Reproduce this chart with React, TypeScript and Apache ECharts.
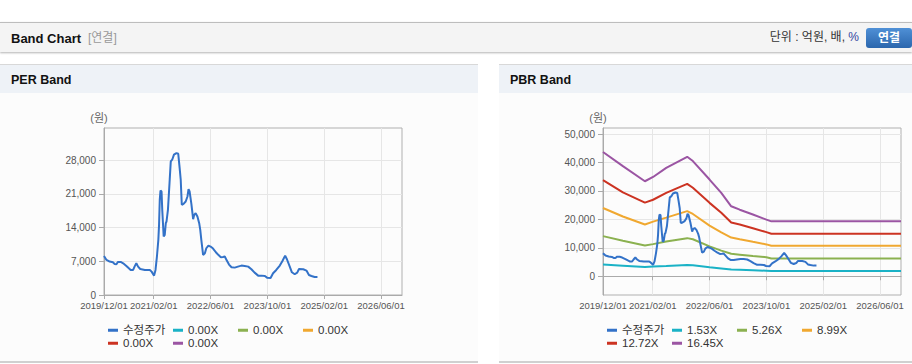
import React, { useEffect, useRef } from "react";
import * as echarts from "echarts";

// x axis: months since 2019/12/01
const xTickMonths = [0, 14, 30, 46, 62, 78];
const xTickLabels = ["2019/12/01", "2021/02/01", "2022/06/01", "2023/10/01", "2025/02/01", "2026/06/01"];
const xMaxMonth = 83.9;

const perTicks = [0, 7000, 14000, 21000, 28000];
const perMax = 34650;
const pbrTicks = [0, 10000, 20000, 30000, 40000, 50000];
const pbrMin = -6590;
const pbrMax = 52120;

// 수정주가 (adjusted price), months since 2019/12/01
const priceMonths = [
  0, 0.7, 1.6, 2.5, 3.0, 3.5, 3.9, 4.7, 5.4, 6.3, 7.0, 7.5, 8.2, 8.6, 9.1, 9.6, 10.2, 11.5, 12.9, 13.4,
  14.1, 14.5, 14.9, 15.3, 15.5, 15.7, 15.9, 16.2, 16.4, 16.8, 17.1, 17.4, 17.6, 18.0, 18.5, 18.8, 19.2, 19.7, 20.4, 20.9,
  21.3, 21.6, 21.9, 22.4, 23.0, 23.5, 23.8, 24.1, 24.6, 25.1, 25.4, 25.8, 26.3, 26.8, 27.1, 27.4, 27.9, 28.4, 28.8, 29.4,
  30.0, 30.7, 31.5, 32.1, 32.9, 33.5, 34.0, 34.5, 35.2, 35.9, 36.8, 37.7, 38.7, 39.6, 40.6, 41.5, 42.4, 43.4, 44.3, 45.3,
  45.9, 46.9, 47.6, 48.5, 49.5, 50.2, 51.0, 51.5, 52.3, 52.9, 53.7, 54.4, 54.9, 56.1, 57.0, 57.7, 58.4, 59.3, 60.1,
];
const priceValues = [
  8100, 7280, 6930, 6790, 6450, 6380, 6860, 6860, 6580, 6030, 5540, 5200, 5200, 5890, 6580, 5890, 5400, 5200, 5200, 4850,
  4020, 5200, 7970, 11430, 14550, 19750, 21690, 21480, 17670, 12130, 12470, 14900, 15250, 17670, 23910, 27720, 28070, 29110, 29450, 29310,
  26330, 23910, 18710, 18920, 19400, 20440, 21970, 21480, 18920, 15730, 16630, 16980, 16290, 14900, 13510, 11430, 8320, 8660, 9700, 10260,
  10050, 9630, 8870, 8390, 7830, 7900, 7970, 7280, 6310, 5750, 5680, 5890, 6100, 6030, 5890, 5340, 4640, 4020, 4020, 3950,
  3600, 3530, 4500, 5200, 6100, 7000, 8180, 7420, 5890, 4710, 4300, 4640, 5400, 5340, 5060, 4160, 3950, 3740, 3740,
];

// PBR bands
const bandMonths = [0, 5.6, 11.8, 14.1, 17.8, 23.7, 25.3, 30.0, 33.3, 36.1, 38.5, 42.2, 46.0, 47.4, 83.9];
const pbr153 = [4100, 3700, 3250, 3400, 3600, 3950, 3850, 3200, 2750, 2350, 2250, 2100, 1950, 1850, 1850];
const pbr526 = [14100, 12500, 10800, 11300, 12200, 13400, 13000, 10500, 9000, 7900, 7600, 7100, 6700, 6250, 6250];
const pbr899 = [24000, 21000, 18200, 19200, 20600, 22900, 21900, 17800, 15400, 13600, 13000, 12100, 11200, 10700, 10700];
const pbr1272 = [33800, 29500, 25900, 26900, 29300, 32500, 31100, 25800, 22300, 18900, 18200, 16900, 15500, 14950, 14950];
const pbr1645 = [43700, 38700, 33400, 34900, 38100, 42000, 40500, 34000, 29300, 24600, 23400, 21700, 19900, 19300, 19300];

const perLabels = ["수정주가", "0.00X", "0.00X", "0.00X", "0.00X", "0.00X"];
const pbrLabels = ["수정주가", "1.53X", "5.26X", "8.99X", "12.72X", "16.45X"];
const colors = ["#3372c8", "#1ab2c6", "#8bb150", "#f0a830", "#cc3322", "#9b55a3"];

const FONT = "'Liberation Sans', Arial, 'Noto Sans CJK KR', sans-serif";

const zip = (xs: number[], ys: number[]) => ys.map((y, i) => [xs[i], y]);

function xAxis(gridIndex: number) {
  return {
    type: "value",
    gridIndex,
    min: 0,
    max: xMaxMonth,
    axisLine: { show: true, lineStyle: { color: "#aaaaaa", width: 1 } },
    axisTick: { show: true, customValues: xTickMonths, length: 4, lineStyle: { color: "#aaaaaa" } },
    axisLabel: {
      customValues: xTickMonths,
      interval: 0,
      showMinLabel: true,
      showMaxLabel: true,
      hideOverlap: false,
      formatter: (v: number) => {
        const i = xTickMonths.indexOf(Math.round(v));
        return i >= 0 ? xTickLabels[i] : "";
      },
      color: "#555555",
      fontSize: 9.5,
      fontFamily: FONT,
      margin: 6,
    },
    splitLine: { show: true, lineStyle: { color: "#e6e6e6", width: 1 } },
  };
}

function yAxis(gridIndex: number, min: number, max: number, ticks: number[]) {
  return {
    type: "value",
    gridIndex,
    min,
    max,
    axisLine: { show: true, lineStyle: { color: "#aaaaaa", width: 1 } },
    axisTick: { show: true, customValues: ticks, length: 5, lineStyle: { color: "#aaaaaa" } },
    axisLabel: {
      customValues: ticks,
      interval: 0,
      showMinLabel: true,
      formatter: (v: number) => Math.round(v).toLocaleString("en-US"),
      color: "#555555",
      fontSize: 10,
      fontFamily: FONT,
      margin: 8,
    },
    splitLine: { show: true, lineStyle: { color: "#e6e6e6", width: 1 } },
  };
}

const legendCols = [0, 65, 130, 195];
function legends(prefix: string, labels: string[], x0: number) {
  return labels.map((lab, i) => ({
    data: [prefix + i],
    left: x0 + legendCols[i < 4 ? i : i - 4],
    top: i < 4 ? 324.5 : 337.5,
    padding: 0,
    itemWidth: 10,
    itemHeight: 3,
    icon: "rect",
    selectedMode: false,
    formatter: () => lab,
    textStyle: { color: "#333333", fontSize: 11.5, fontFamily: FONT },
  }));
}

function lineSeries(name: string, data: number[][], color: string, idx: number, z: number) {
  return {
    type: "line",
    name,
    xAxisIndex: idx,
    yAxisIndex: idx,
    data,
    showSymbol: false,
    symbol: "none",
    smooth: false,
    silent: true,
    z,
    lineStyle: { color, width: 2 },
    itemStyle: { color },
  };
}

export default function App() {
  const ref = useRef<HTMLDivElement>(null);
  useEffect(() => {
    if (!ref.current) return;
    const chart = echarts.init(ref.current, null, { renderer: "svg" });
    const pbrBands = [pbr153, pbr526, pbr899, pbr1272, pbr1645];
    const series: any[] = [];
    series.push(lineSeries("per0", zip(priceMonths, priceValues), colors[0], 0, 5));
    for (let i = 1; i < 6; i++) series.push(lineSeries("per" + i, [], colors[i], 0, 3));
    for (let i = 1; i < 6; i++) series.push(lineSeries("pbr" + i, zip(bandMonths, pbrBands[i - 1]), colors[i], 1, 3));
    series.push(lineSeries("pbr0", zip(priceMonths, priceValues), colors[0], 1, 5));

    chart.setOption({
      animation: false,
      backgroundColor: "transparent",
      grid: [
        { left: 104, top: 128, width: 298, height: 167, show: true, borderColor: "#b0b0b0", borderWidth: 1, backgroundColor: "transparent" },
        { left: 603, top: 128, width: 298, height: 167, show: true, borderColor: "#b0b0b0", borderWidth: 1, backgroundColor: "transparent" },
      ],
      xAxis: [xAxis(0), xAxis(1)],
      yAxis: [yAxis(0, 0, perMax, perTicks), yAxis(1, pbrMin, pbrMax, pbrTicks)],
      legend: [...legends("per", perLabels, 108), ...legends("pbr", pbrLabels, 607)],
      graphic: [
        { type: "text", x: 99, y: 118, style: { text: "(원)", fill: "#666666", font: `11px ${FONT}`, align: "center", verticalAlign: "middle" } },
        { type: "text", x: 598, y: 118, style: { text: "(원)", fill: "#666666", font: `11px ${FONT}`, align: "center", verticalAlign: "middle" } },
      ],
      series,
    });
    return () => chart.dispose();
  }, []);

  const panel = (left: number, width: number, title: string) => (
    <div
      style={{
        position: "absolute",
        left,
        top: 64,
        width,
        height: 296,
        borderTop: "1px solid #d8d8d8",
        borderBottom: "2px solid #d0d0d0",
        background: "#fcfcfc",
      }}
    >
      <div
        style={{
          height: 28,
          background: "#eef2f7",
          lineHeight: "30px",
          paddingLeft: 11,
          fontSize: 12.5,
          fontWeight: "bold",
          color: "#111",
        }}
      >
        {title}
      </div>
    </div>
  );

  return (
    <div
      style={{
        position: "fixed",
        left: 0,
        top: 0,
        width: 912,
        height: 364,
        background: "#ffffff",
        overflow: "hidden",
        fontFamily: FONT,
      }}
    >
      <div
        style={{
          position: "absolute",
          left: 0,
          top: 22,
          width: 912,
          height: 29,
          background: "#f4f4f4",
          borderTop: "1px solid #bdbdbd",
          boxShadow: "0 1px 2px rgba(0,0,0,0.3)",
        }}
      >
        <span style={{ position: "absolute", left: 11, top: 0, lineHeight: "31px", fontSize: 13, fontWeight: "bold", color: "#111" }}>
          Band Chart
        </span>
        <span style={{ position: "absolute", left: 88, top: 0, lineHeight: "31px", fontSize: 12, color: "#999" }}>[연결]</span>
        <span style={{ position: "absolute", right: 53, top: 0, lineHeight: "29px", fontSize: 12, color: "#333" }}>
          단위 : 억원, 배, <span style={{ color: "#3347a0" }}>%</span>
        </span>
        <div
          style={{
            position: "absolute",
            left: 866,
            top: 5,
            width: 46,
            height: 20,
            lineHeight: "20px",
            borderRadius: 3,
            background: "linear-gradient(#4f90d6, #2b66ad)",
            color: "#fff",
            fontSize: 12,
            fontWeight: "bold",
            textAlign: "center",
          }}
        >
          연결
        </div>
      </div>
      {panel(0, 478, "PER Band")}
      {panel(499, 413, "PBR Band")}
      <div ref={ref} style={{ position: "absolute", left: 0, top: 0, width: 912, height: 364 }} />
    </div>
  );
}
